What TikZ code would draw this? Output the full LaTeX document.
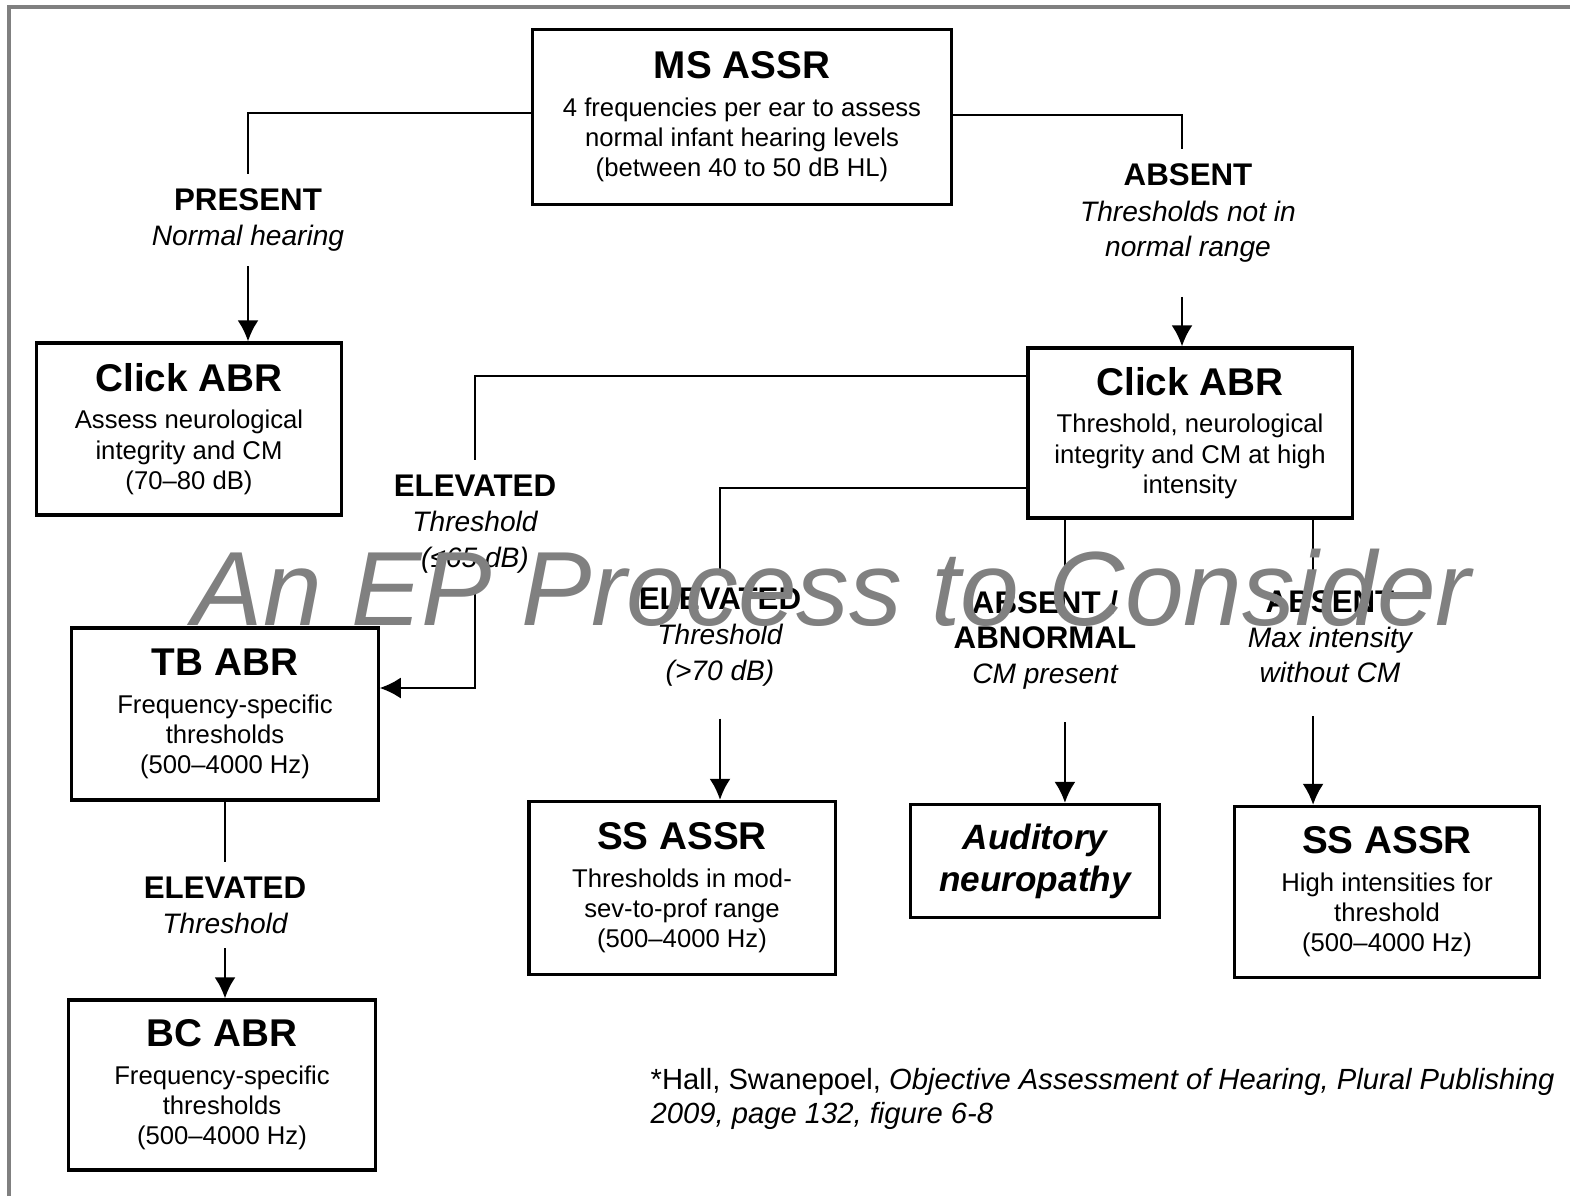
\documentclass[tikz,border=0pt]{standalone}
\usepackage{fontspec}
\setmainfont{Liberation Sans}
\usetikzlibrary{arrows.meta}

\newcommand{\boxtitle}[1]{{\fontsize{11}{13}\selectfont\bfseries #1}\\[2pt]}

\tikzset{
    stepbox/.style={draw, line width=0.9pt, align=center, inner sep=0pt,
        font=\fontsize{7.3}{8.6}\selectfont},
    branch/.style={align=center, inner sep=4pt, font=\fontsize{8}{10}\selectfont\itshape},
    wire/.style={line width=0.7pt},
    flow/.style={line width=0.7pt, -{Latex[length=6pt,width=6pt]}},
}
\newcommand{\cond}[1]{{\fontsize{8.9}{10}\selectfont\bfseries\upshape #1}}

\begin{document}
\begin{tikzpicture}[x=0.01cm, y=-0.01cm]
        \useasboundingbox (0, 0) rectangle (1570, 1196);
        \draw[gray, line width=1pt] (9, 1196) -- (9, 7) -- (1570, 7);

        % boxes
        \node[stepbox, minimum width=4.19cm, minimum height=1.75cm] (msassr) at (742, 117)
            {\boxtitle{MS ASSR}4 frequencies per ear to assess\\normal infant hearing levels\\(between 40 to 50 dB HL)};
        \node[stepbox, minimum width=3.04cm, minimum height=1.72cm] (clickL) at (189, 429)
            {\boxtitle{Click ABR}Assess neurological\\integrity and CM\\(70--80 dB)};
        \node[stepbox, minimum width=3.24cm, minimum height=1.70cm] (clickR) at (1190, 433)
            {\boxtitle{Click ABR}Threshold, neurological\\integrity and CM at high\\intensity};
        \node[stepbox, minimum width=3.06cm, minimum height=1.72cm] (tbabr) at (225, 714)
            {\boxtitle{TB ABR}Frequency-specific\\thresholds\\(500--4000 Hz)};
        \node[stepbox, minimum width=3.07cm, minimum height=1.70cm] (bcabr) at (222, 1085)
            {\boxtitle{BC ABR}Frequency-specific\\thresholds\\(500--4000 Hz)};
        \node[stepbox, minimum width=3.06cm, minimum height=1.73cm] (ssmid) at (682, 888)
            {\boxtitle{SS ASSR}Thresholds in mod-\\sev-to-prof range\\(500--4000 Hz)};
        \node[stepbox, minimum width=2.49cm, minimum height=1.13cm,
            font=\fontsize{10}{12}\selectfont\bfseries\itshape] (neuro) at (1035, 861)
            {Auditory\\neuropathy};
        \node[stepbox, minimum width=3.05cm, minimum height=1.71cm] (ssright) at (1387, 892)
            {\boxtitle{SS ASSR}High intensities for\\threshold\\(500--4000 Hz)};

        % branch labels
        \node[branch] (present) at (248, 220) {\cond{PRESENT}\\Normal hearing};
        \node[branch] (absent) at (1188, 213) {\cond{ABSENT}\\Thresholds not in\\normal range};
        \node[branch] (elevL) at (475, 524) {\cond{ELEVATED}\\Threshold\\(≤65 dB)};
        \node[branch] (elevM) at (720, 637) {\cond{ELEVATED}\\Threshold\\(>70 dB)};
        \node[branch] (abnorm) at (1045, 640) {\cond{ABSENT /}\\\cond{ABNORMAL}\\CM present};
        \node[branch] (absentR) at (1330, 637) {\cond{ABSENT}\\Max intensity\\without CM};
        \node[branch] (elevTB) at (225, 905) {\cond{ELEVATED}\\Threshold};

        \coordinate (tapAbs) at (1182, 0);
        \coordinate (tapAN) at ([xshift=-1.25cm]clickR.south);
        \coordinate (tapMax) at ([xshift=1.23cm]clickR.south);

        % connectors
        \draw[wire] ([yshift=0.04cm]msassr.west) -| (present.north);
        \draw[flow] (present.south) -- (present.south |- clickL.north);
        \draw[wire] ([yshift=0.02cm]msassr.east) -| (tapAbs |- absent.north);
        \draw[flow] ([yshift=-0.2cm]tapAbs |- absent.south) -- (tapAbs |- clickR.north);
        \draw[wire] ([yshift=0.57cm]clickR.west) -| (elevL.north);
        \draw[flow] (elevL.south) |- ([yshift=0.26cm]tbabr.east);
        \draw[wire] ([yshift=-0.55cm]clickR.west) -| (elevM.north);
        \draw[flow] ([yshift=-0.18cm]elevM.south) -- (elevM.south |- ssmid.north);
        \draw[wire] (tapAN) -- (tapAN |- abnorm.north);
        \draw[flow] ([yshift=-0.18cm]tapAN |- abnorm.south) -- (tapAN |- neuro.north);
        \draw[wire] (tapMax) -- (tapMax |- absentR.north);
        \draw[flow] ([yshift=-0.18cm]tapMax |- absentR.south) -- (tapMax |- ssright.north);
        \draw[wire] (tbabr.south) -- (elevTB.north);
        \draw[flow] (elevTB.south) -- (elevTB.south |- bcabr.north);

        % source
        \node[anchor=north west, align=left, inner sep=0pt, font=\fontsize{8.3}{9.6}\selectfont] (source) at (650, 1068)
            {*Hall, Swanepoel, \textit{Objective Assessment of Hearing, Plural Publishing}\\\textit{2009, page 132, figure 6-8}};

        % watermark
        \node[text=gray, font=\fontsize{30}{30}\selectfont\itshape, inner sep=0pt] (mark) at (832, 588)
            {An EP Process to Consider};
    \end{tikzpicture}
\end{document}
